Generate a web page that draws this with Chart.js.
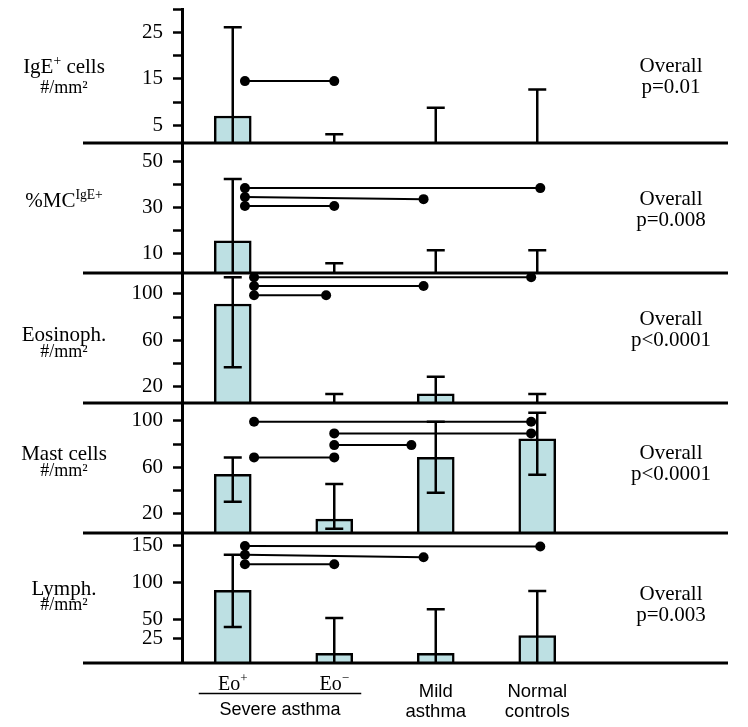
<!DOCTYPE html>
<html><head><meta charset="utf-8">
<script src="https://cdn.jsdelivr.net/npm/chart.js@4.4.0/dist/chart.umd.min.js"></script>
<style>html,body{margin:0;padding:0;background:#fff;}canvas{display:block;}</style>
</head><body>
<canvas id="c" width="748" height="727"></canvas>
<script>
// ---------- categories ----------
const xLabelMain = ['Eo', 'Eo', 'Mild', 'Normal'];
const xLabelSup = ['+', '\u2212', '', ''];
const xLabelSecond = ['', '', 'asthma', 'controls'];
const groupLabel = 'Severe asthma';
const categories = ['Eo+', 'Eo\u2212', 'Mild asthma', 'Normal controls'];

// ---------- panel 1: IgE+ cells ----------
const igeMean = [7.0, 0.5, 1.0, 1.0];
const igeHigh = [26.1, 3.1, 8.8, 12.7];
const igeLow = [null, null, null, null];
const igeTicks = [5, 10, 15, 20, 25, 30];
const igeTickLabels = [5, 15, 25];
const igeBrackets = [[0.12, 1.0, 14.5, 14.5]];

// ---------- panel 2: %MC IgE+ ----------
const mcMean = [15.5, 1.0, 1.0, 1.0];
const mcHigh = [42.4, 5.7, 11.4, 11.4];
const mcLow = [null, null, null, null];
const mcTicks = [10, 20, 30, 40, 50];
const mcTickLabels = [10, 30, 50];
const mcBrackets = [[0.12, 3.03, 38.4, 38.4], [0.12, 1.88, 34.5, 33.6], [0.12, 1.0, 30.6, 30.6]];

// ---------- panel 3: Eosinophils ----------
const eosMean = [91.3, 2.0, 14.0, 2.0];
const eosHigh = [114.3, 13.7, 28.6, 13.7];
const eosLow = [36.7, null, null, null];
const eosTicks = [20, 40, 60, 80, 100];
const eosTickLabels = [20, 60, 100];
const eosBrackets = [[0.21, 2.94, 114.3, 114.3], [0.21, 1.88, 106.8, 106.8], [0.21, 0.92, 98.8, 98.8]];

// ---------- panel 4: Mast cells ----------
const mastMean = [54.0, 15.4, 68.6, 84.7];
const mastHigh = [68.6, 45.6, 99.3, 107.1];
const mastLow = [30.3, 7.1, 38.1, 53.6];
const mastTicks = [20, 40, 60, 80, 100];
const mastTickLabels = [20, 60, 100];
const mastBrackets = [[0.21, 2.94, 99.3, 99.3], [1.0, 2.94, 89.3, 89.3], [1.0, 1.76, 79.2, 79.2], [0.21, 1.0, 68.6, 68.6]];

// ---------- panel 5: Lymphocytes ----------
const lymMean = [89.7, 5.2, 5.2, 28.8];
const lymHigh = [137.4, 52.5, 64.2, 88.7];
const lymLow = [40.5, null, null, null];
const lymTicks = [25, 50, 100, 150];
const lymTickLabels = [25, 50, 100, 150];
const lymBrackets = [[0.12, 3.03, 149, 148.3], [0.12, 1.88, 137.4, 134], [0.12, 1.0, 124.5, 124.5]];

const pValues = ['p=0.01', 'p=0.008', 'p<0.0001', 'p<0.0001', 'p=0.003'];

// ---------- styling / layout ----------
const SERIF = '"Liberation Serif", "Times New Roman", Times, serif';
const SANS = '"Liberation Sans", Arial, Helvetica, sans-serif';
const BAR_FILL = '#bde0e3';

const panels = [
  {mean: igeMean, high: igeHigh, low: igeLow, ticks: igeTicks, tickLabels: igeTickLabels, brackets: igeBrackets,
   min: 1.2, max: 30, weight: 134,
   title: [['IgE', false], ['+', true], [' cells', false]], unit: '#/mm\u00B2', titleDy: 57, unitDy: 79, pDy: 56},
  {mean: mcMean, high: mcHigh, low: mcLow, ticks: mcTicks, tickLabels: mcTickLabels, brackets: mcBrackets,
   min: 1.5, max: 58, weight: 130,
   title: [['%MC', false], ['IgE+', true]], unit: null, titleDy: 57, unitDy: 0, pDy: 55},
  {mean: eosMean, high: eosHigh, low: eosLow, ticks: eosTicks, tickLabels: eosTickLabels, brackets: eosBrackets,
   min: 6, max: 118, weight: 130,
   title: [['Eosinoph.', false]], unit: '#/mm\u00B2', titleDy: 61, unitDy: 79, pDy: 45},
  {mean: mastMean, high: mastHigh, low: mastLow, ticks: mastTicks, tickLabels: mastTickLabels, brackets: mastBrackets,
   min: 3.4, max: 115.5, weight: 130,
   title: [['Mast cells', false]], unit: '#/mm\u00B2', titleDy: 50, unitDy: 68, pDy: 49},
  {mean: lymMean, high: lymHigh, low: lymLow, ticks: lymTicks, tickLabels: lymTickLabels, brackets: lymBrackets,
   min: -7.8, max: 166.5, weight: 130,
   title: [['Lymph.', false]], unit: '#/mm\u00B2', titleDy: 55, unitDy: 72, pDy: 60}
];

function drawRich(ctx, parts, cx, baseY, size, family) {
  let total = 0;
  parts.forEach(([t, sup]) => {
    ctx.font = (sup ? size * 0.65 : size) + 'px ' + family;
    total += ctx.measureText(t).width;
  });
  let x = cx - total / 2;
  ctx.textAlign = 'left';
  ctx.textBaseline = 'alphabetic';
  parts.forEach(([t, sup]) => {
    const s = sup ? size * 0.65 : size;
    ctx.font = s + 'px ' + family;
    ctx.fillText(t, x, sup ? baseY - size * 0.36 : baseY);
    x += ctx.measureText(t).width;
  });
}

const overlay = {
  id: 'overlay',
  beforeDatasetDraw(chart, args) {
    const ds = chart.data.datasets[args.index];
    const ys = chart.scales[ds.yAxisID];
    const ctx = chart.ctx;
    ctx.save();
    ctx.beginPath();
    ctx.rect(chart.chartArea.left, ys.top, chart.chartArea.right - chart.chartArea.left, ys.bottom - ys.top);
    ctx.clip();
  },
  afterDatasetDraw(chart) { chart.ctx.restore(); },
  afterDatasetsDraw(chart) {
    const ctx = chart.ctx;
    const xs = chart.scales.x;
    ctx.save();
    ctx.strokeStyle = '#000';
    ctx.fillStyle = '#000';
    ctx.lineCap = 'butt';
    panels.forEach((p, k) => {
      const ys = chart.scales['y' + k];
      // error bars
      ctx.lineWidth = 2.5;
      p.high.forEach((hi, i) => {
        const x = xs.getPixelForValue(i);
        const yTop = ys.getPixelForValue(hi);
        const lo = p.low[i];
        const yBot = lo == null ? ys.bottom : ys.getPixelForValue(lo);
        ctx.beginPath();
        ctx.moveTo(x, yTop); ctx.lineTo(x, yBot);
        ctx.moveTo(x - 9, yTop); ctx.lineTo(x + 9, yTop);
        if (lo != null) { ctx.moveTo(x - 9, yBot); ctx.lineTo(x + 9, yBot); }
        ctx.stroke();
      });
      // significance brackets
      ctx.lineWidth = 2;
      p.brackets.forEach(([c1, c2, v1, v2]) => {
        const x1 = xs.getPixelForValue(c1), x2 = xs.getPixelForValue(c2);
        const y1 = ys.getPixelForValue(v1), y2 = ys.getPixelForValue(v2);
        ctx.beginPath(); ctx.moveTo(x1, y1); ctx.lineTo(x2, y2); ctx.stroke();
        ctx.beginPath(); ctx.arc(x1, y1, 5, 0, Math.PI * 2); ctx.fill();
        ctx.beginPath(); ctx.arc(x2, y2, 5, 0, Math.PI * 2); ctx.fill();
      });
    });
    ctx.restore();
  },
  afterDraw(chart) {
    const ctx = chart.ctx;
    const area = chart.chartArea;
    const xs = chart.scales.x;
    ctx.save();
    ctx.strokeStyle = '#000';
    ctx.fillStyle = '#000';
    panels.forEach((p, k) => {
      const ys = chart.scales['y' + k];
      // baseline across the panel
      ctx.lineWidth = 3;
      ctx.beginPath();
      ctx.moveTo(area.left - 99, ys.bottom);
      ctx.lineTo(area.right + 140, ys.bottom);
      ctx.stroke();
      // panel title
      const tx = area.left - 118;
      drawRich(ctx, p.title, tx, ys.top + p.titleDy + 7, 21, SERIF);
      if (p.unit) {
        ctx.font = '18px ' + SERIF;
        ctx.textAlign = 'center';
        ctx.textBaseline = 'alphabetic';
        ctx.fillText(p.unit, tx, ys.top + p.unitDy + 5);
      }
      // overall p text
      ctx.font = '21px ' + SERIF;
      ctx.textAlign = 'center';
      ctx.textBaseline = 'alphabetic';
      const px = area.right + 83;
      ctx.fillText('Overall', px, ys.top + p.pDy + 7);
      ctx.fillText(pValues[k], px, ys.top + p.pDy + 28);
    });
    // x labels
    const b = area.bottom;
    xLabelMain.forEach((t, i) => {
      const x = xs.getPixelForValue(i);
      if (xLabelSup[i]) {
        drawRich(ctx, [[t, false], [xLabelSup[i], true]], x, b + 26.5, 20, SERIF);
      } else {
        ctx.font = '18.5px ' + SANS;
        ctx.textAlign = 'center';
        ctx.textBaseline = 'alphabetic';
        ctx.fillText(t, x, b + 34);
        ctx.fillText(xLabelSecond[i], x, b + 53.5);
      }
    });
    // group underline + label
    const gx1 = xs.getPixelForValue(0) - 34, gx2 = xs.getPixelForValue(1) + 27;
    ctx.lineWidth = 1.5;
    ctx.beginPath();
    ctx.moveTo(gx1, b + 30.5); ctx.lineTo(gx2, b + 30.5);
    ctx.stroke();
    ctx.font = '18px ' + SANS;
    ctx.textAlign = 'center';
    ctx.fillText(groupLabel, (gx1 + gx2) / 2, b + 52);
    ctx.restore();
  }
};

const scales = {
  x: {
    type: 'category', offset: true,
    grid: {display: false}, border: {display: false},
    ticks: {display: false},
    afterFit: s => { s.height = 64; s.paddingLeft = 0; s.paddingRight = 0; }
  }
};
panels.forEach((p, k) => {
  scales['y' + k] = {
    type: 'linear', position: 'left', stack: 'panels', stackWeight: p.weight, weight: 5 - k,
    min: p.min, max: p.max,
    afterBuildTicks: s => { s.ticks = p.ticks.map(v => ({value: v})); },
    afterFit: s => { s.width = 182; s.paddingTop = 0; s.paddingBottom = 0; },
    grid: {display: true, drawOnChartArea: false, drawTicks: true, tickLength: 9, tickWidth: 2.5, tickColor: '#000'},
    border: {display: true, width: 3, color: '#000'},
    ticks: {
      autoSkip: false, color: '#000', padding: 10,
      font: {family: SERIF, size: 21},
      callback: v => p.tickLabels.includes(v) ? String(v) : ''
    }
  };
});

new Chart(document.getElementById('c'), {
  type: 'bar',
  data: {
    labels: categories,
    datasets: panels.map((p, k) => ({
      label: 'panel' + k,
      data: p.mean,
      yAxisID: 'y' + k,
      xAxisID: 'x',
      base: p.min,
      grouped: false,
      backgroundColor: BAR_FILL,
      borderColor: '#000',
      borderWidth: 2.5,
      barThickness: 37
    }))
  },
  options: {
    responsive: false,
    animation: false,
    devicePixelRatio: 1,
    layout: {padding: {top: 9, right: 160, left: 0, bottom: 0}},
    plugins: {legend: {display: false}, tooltip: {enabled: false}, title: {display: false}},
    scales: scales
  },
  plugins: [overlay]
});
</script>
</body></html>
